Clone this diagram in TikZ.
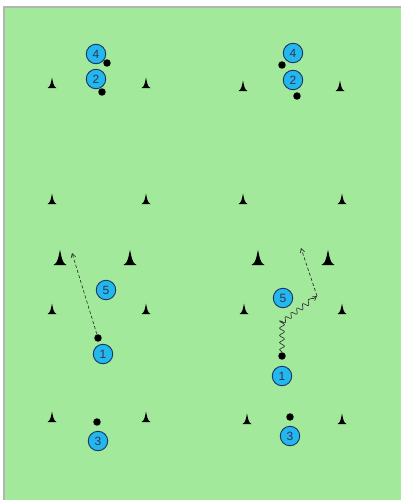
\documentclass[tikz,border=0pt]{standalone}
\usepackage{fontspec}
\setmainfont{Liberation Sans}
\usetikzlibrary{arrows.meta, decorations.pathmorphing}
\definecolor{fieldGreen}{HTML}{A2E99B}
\definecolor{fieldEdge}{HTML}{B2B6AE}
\definecolor{playerFill}{HTML}{22B8EC}
\definecolor{playerEdge}{HTML}{1D3366}
\definecolor{playerText}{HTML}{3A2C66}
\definecolor{runLine}{HTML}{333333}

\begin{document}
\begin{tikzpicture}[x=0.75pt, y=-0.75pt,
  player/.style={circle, draw=playerEdge, fill=playerFill, line width=0.7pt,
                 minimum size=14.6pt, inner sep=0pt,
                 font=\fontsize{9}{10}\selectfont, text=playerText},
  ball/.style={circle, fill=black, minimum size=5.6pt, inner sep=0pt},
  pass/.style={draw=runLine, line width=0.5pt, dash pattern=on 2.4pt off 1.6pt,
               -{Straight Barb[length=3pt, width=3.5pt]}},
  dribble/.style={draw=runLine, line width=0.5pt,
                  decorate, decoration={snake, amplitude=1.8pt, segment length=5.4pt, post length=3pt},
                  -{Straight Barb[length=3pt, width=3.5pt]}},
  cone/.pic={\fill (-4.5,0) .. controls (-1.5,-1) and (-1,-6) .. (0,-10.5)
                     .. controls (1,-6) and (1.5,-1) .. (4.5,0) -- cycle;},
]
\useasboundingbox (0,0) rectangle (404,500);

% --- pitch ---
\fill[fieldGreen] (4,7) rectangle (401,500);
\draw[fieldEdge, line width=0.8pt] (4,500) -- (4,7) -- (401,7);

% --- cones, left grid ---
\pic at (52,88)  {cone};  \pic at (146,88)  {cone};
\pic at (52,204) {cone};  \pic at (146,204) {cone};
\pic[scale=1.45] at (60,265)  {cone};  \pic[scale=1.45] at (130,265) {cone};
\pic at (52,314) {cone};  \pic at (146,314) {cone};
\pic at (52,422) {cone};  \pic at (146,422) {cone};

% --- cones, right grid ---
\pic at (243,91)  {cone}; \pic at (340,91)  {cone};
\pic at (243,204) {cone}; \pic at (342,204) {cone};
\pic[scale=1.45] at (258,265) {cone}; \pic[scale=1.45] at (328,265) {cone};
\pic at (244,314) {cone}; \pic at (342,314) {cone};
\pic at (247,424) {cone}; \pic at (342,424) {cone};

% --- players, left grid ---
\node[player] (p4a) at (96,54)   {4};
\node[player] (p2a) at (96,79)   {2};
\node[player] (p5a) at (106,290) {5};
\node[player] (p1a) at (103,354) {1};
\node[player] (p3a) at (98,441)  {3};
\node[ball] (b4a) at (107,63)  {};
\node[ball] (b2a) at (102,92)  {};
\node[ball] (b1a) at (98,338)  {};
\node[ball] (b3a) at (97,422)  {};

% --- players, right grid ---
\node[player] (p4b) at (293,53)  {4};
\node[player] (p2b) at (293,80)  {2};
\node[player] (p5b) at (283,298) {5};
\node[player] (p1b) at (282,376) {1};
\node[player] (p3b) at (290,436) {3};
\node[ball] (b4b) at (282,65)  {};
\node[ball] (b2b) at (297,96)  {};
\node[ball] (b1b) at (282,356) {};
\node[ball] (b3b) at (290,417) {};

% --- runs ---
\coordinate (tipA)  at (72,253);
\draw[pass] (b1a) -- (tipA);

\coordinate (bendB) at (282,322);
\coordinate (runB)  at (317,296);
\coordinate (tipB)  at (301,248);
\draw[dribble] (b1b) -- (bendB) -- (runB);
\draw[pass] (runB) -- (tipB);
\end{tikzpicture}
\end{document}
